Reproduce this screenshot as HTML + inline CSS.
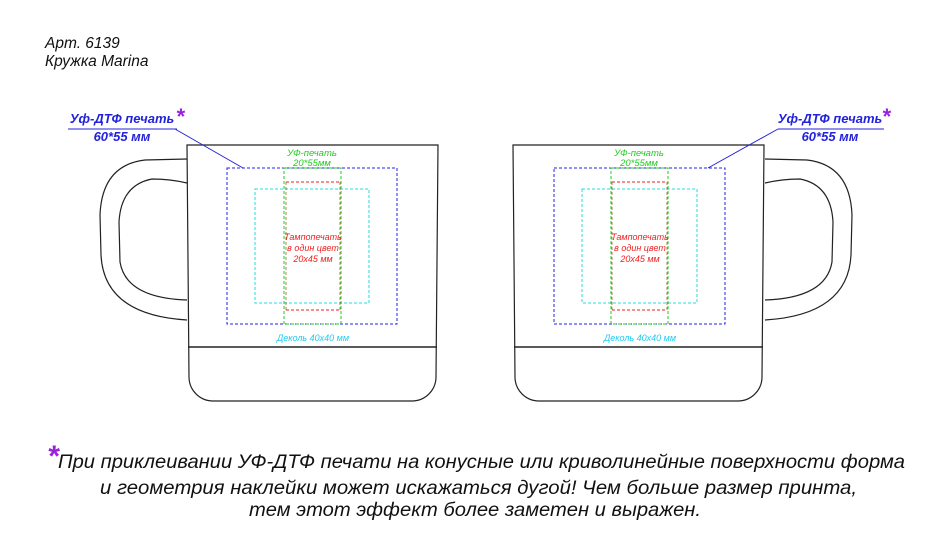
<!DOCTYPE html>
<html><head><meta charset="utf-8"><style>
html,body{margin:0;padding:0;background:#fff;}
svg text{font-family:"Liberation Sans",sans-serif;font-style:italic;}
</style></head><body>
<svg width="952" height="555" viewBox="0 0 952 555" xmlns="http://www.w3.org/2000/svg">
<text x="45" y="48" font-size="15.5" fill="#111">Арт. 6139</text>
<text x="45" y="66" font-size="15.5" fill="#111">Кружка Marina</text>

<g>
<path d="M187,145 L438,145 L436,377 A24,24 0 0 1 412,401 L213,401 A24,24 0 0 1 189,377 Z" fill="none" stroke="#222" stroke-width="1.2"/>
<line x1="188" y1="347" x2="437" y2="347" stroke="#222" stroke-width="1.4"/>
<path d="M187,159 L145,160 Q102,165 100,215 L101,255 Q104,315 187,320" fill="none" stroke="#222" stroke-width="1.2"/>
<path d="M187,183 Q170,179 152,179 Q121,185 119,222 L120,262 Q126,298 187,300" fill="none" stroke="#222" stroke-width="1.2"/>
<rect x="227" y="168" width="170" height="156" fill="none" stroke="#2222ee" stroke-width="1" stroke-dasharray="3,2"/>
<rect x="255" y="189" width="114" height="114" fill="none" stroke="#22dddd" stroke-width="1" stroke-dasharray="3,2"/>
<rect x="284" y="168" width="57" height="156" fill="none" stroke="#22cc22" stroke-width="1" stroke-dasharray="3,2"/>
<line x1="286" y1="182" x2="340" y2="182" stroke="#ee2222" stroke-dasharray="3,2"/>
<line x1="286" y1="310" x2="340" y2="310" stroke="#ee2222" stroke-dasharray="3,2"/>
<line x1="286" y1="182" x2="286" y2="310" stroke="#996622" stroke-dasharray="3,2" stroke-width="0.8"/>
<line x1="340" y1="182" x2="340" y2="310" stroke="#996622" stroke-dasharray="3,2" stroke-width="0.8"/>
<text x="312" y="156" font-size="9.5" fill="#22cc22" text-anchor="middle" font-style="normal">УФ-печать</text>
<text x="312" y="166" font-size="9.5" fill="#22cc22" text-anchor="middle" font-style="normal">20*55мм</text>
<text x="313" y="240" font-size="9" fill="#ee2222" text-anchor="middle">Тампопечать</text>
<text x="313" y="251" font-size="9" fill="#ee2222" text-anchor="middle">в один цвет</text>
<text x="313" y="262" font-size="9" fill="#ee2222" text-anchor="middle">20x45 мм</text>
<text x="313" y="341" font-size="9" fill="#22ccee" text-anchor="middle">Деколь 40x40 мм</text>
</g>
<text x="122" y="123" font-size="13" font-weight="bold" fill="#2222dd" text-anchor="middle">Уф-ДТФ печать</text>
<text x="180" y="124" font-size="22" font-weight="bold" fill="#9922dd" text-anchor="middle">*</text>
<line x1="68" y1="129" x2="177" y2="129" stroke="#2222dd"/>
<line x1="175" y1="129" x2="243" y2="168" stroke="#2222dd"/>
<text x="122" y="141" font-size="13" font-weight="bold" fill="#2222dd" text-anchor="middle">60*55 мм</text>

<g>
<path d="M513,145 L764,145 L762,377 A24,24 0 0 1 738,401 L539,401 A24,24 0 0 1 515,377 Z" fill="none" stroke="#222" stroke-width="1.2"/>
<line x1="514" y1="347" x2="763" y2="347" stroke="#222" stroke-width="1.4"/>
<path d="M765,159 L807,160 Q850,165 852,215 L851,255 Q848,315 765,320" fill="none" stroke="#222" stroke-width="1.2"/>
<path d="M765,183 Q782,179 800,179 Q831,185 833,222 L832,262 Q826,298 765,300" fill="none" stroke="#222" stroke-width="1.2"/>
<rect x="554" y="168" width="171" height="156" fill="none" stroke="#2222ee" stroke-width="1" stroke-dasharray="3,2"/>
<rect x="582" y="189" width="115" height="114" fill="none" stroke="#22dddd" stroke-width="1" stroke-dasharray="3,2"/>
<rect x="611" y="168" width="57" height="156" fill="none" stroke="#22cc22" stroke-width="1" stroke-dasharray="3,2"/>
<line x1="612" y1="182" x2="667" y2="182" stroke="#ee2222" stroke-dasharray="3,2"/>
<line x1="612" y1="310" x2="667" y2="310" stroke="#ee2222" stroke-dasharray="3,2"/>
<line x1="612" y1="182" x2="612" y2="310" stroke="#996622" stroke-dasharray="3,2" stroke-width="0.8"/>
<line x1="667" y1="182" x2="667" y2="310" stroke="#996622" stroke-dasharray="3,2" stroke-width="0.8"/>
<text x="639" y="156" font-size="9.5" fill="#22cc22" text-anchor="middle" font-style="normal">УФ-печать</text>
<text x="639" y="166" font-size="9.5" fill="#22cc22" text-anchor="middle" font-style="normal">20*55мм</text>
<text x="640" y="240" font-size="9" fill="#ee2222" text-anchor="middle">Тампопечать</text>
<text x="640" y="251" font-size="9" fill="#ee2222" text-anchor="middle">в один цвет</text>
<text x="640" y="262" font-size="9" fill="#ee2222" text-anchor="middle">20x45 мм</text>
<text x="640" y="341" font-size="9" fill="#22ccee" text-anchor="middle">Деколь 40x40 мм</text>
</g>
<text x="830" y="123" font-size="13" font-weight="bold" fill="#2222dd" text-anchor="middle">Уф-ДТФ печать</text>
<text x="886" y="124" font-size="22" font-weight="bold" fill="#9922dd" text-anchor="middle">*</text>
<line x1="778" y1="129" x2="884" y2="129" stroke="#2222dd"/>
<line x1="778" y1="129" x2="708" y2="168" stroke="#2222dd"/>
<text x="830" y="141" font-size="13" font-weight="bold" fill="#2222dd" text-anchor="middle">60*55 мм</text>

<text x="53" y="466" font-size="30" font-weight="bold" fill="#9922dd" text-anchor="middle">*</text>
<text x="58" y="468" font-size="19" fill="#111" textLength="847" lengthAdjust="spacingAndGlyphs">При приклеивании УФ-ДТФ печати на конусные или криволинейные поверхности форма</text>
<text x="100" y="494" font-size="19" fill="#111" textLength="757" lengthAdjust="spacingAndGlyphs">и геометрия наклейки может искажаться дугой! Чем больше размер принта,</text>
<text x="249" y="516" font-size="19" fill="#111" textLength="452" lengthAdjust="spacingAndGlyphs">тем этот эффект более заметен и выражен.</text>
</svg>
</body></html>
